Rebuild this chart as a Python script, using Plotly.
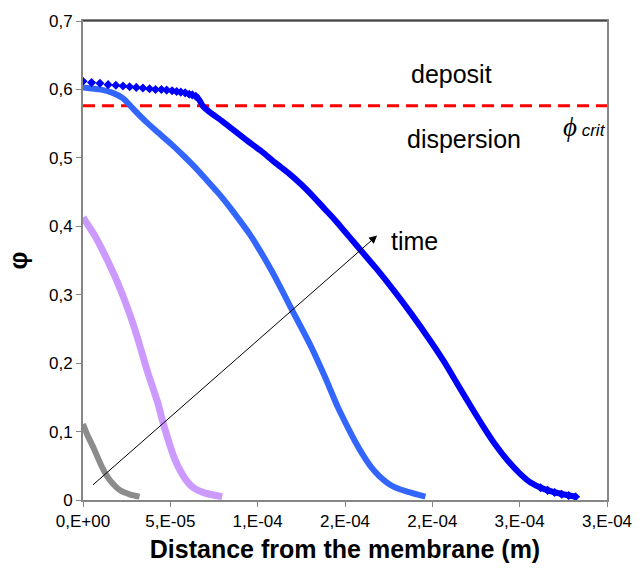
import plotly.graph_objects as go

# ---- data (distance in m, volume fraction phi) ----
gray_x = [0, 2.5e-6, 5.9e-6, 1.0e-5, 1.35e-5, 1.7e-5, 2.1e-5, 2.7e-5, 3.24e-5]
gray_y = [0.111, 0.095, 0.077, 0.053, 0.036, 0.024, 0.0145, 0.008, 0.005]

purple_x = [0, 6.8e-6, 1.44e-5, 2.2e-5, 2.95e-5, 3.7e-5, 4.28e-5, 4.56e-5, 5.0e-5, 5.3e-5, 5.8e-5, 6.27e-5, 7.0e-5, 7.97e-5]
purple_y = [0.413, 0.386, 0.348, 0.304, 0.251, 0.187, 0.142, 0.115, 0.078, 0.057, 0.033, 0.019, 0.010, 0.005]

light_x = [0, 9.7e-6, 1.7e-5, 2.3e-5, 2.86e-5, 3.6e-5, 4.3e-5, 5.1e-5, 5.8e-5, 6.46e-5, 7.1e-5, 7.8e-5, 8.4e-5, 8.9e-5,
           9.5e-5, 1.0e-4, 1.08e-4, 1.14e-4, 1.2e-4, 1.26e-4, 1.31e-4, 1.385e-4, 1.46e-4, 1.51e-4, 1.555e-4,
           1.6e-4, 1.65e-4, 1.7e-4, 1.76e-4, 1.81e-4, 1.86e-4, 1.96e-4]
light_y = [0.603, 0.600, 0.595, 0.587, 0.572, 0.553, 0.537, 0.519, 0.502, 0.485, 0.467, 0.447, 0.428, 0.411,
           0.390, 0.370, 0.335, 0.306, 0.276, 0.247, 0.222, 0.180, 0.135, 0.109, 0.087,
           0.067, 0.048, 0.034, 0.022, 0.016, 0.012, 0.005]

dark_plateau_x = [0, 4.9e-6, 9.7e-6, 1.44e-5, 1.88e-5, 2.29e-5, 2.67e-5, 3.05e-5, 3.43e-5, 3.81e-5,
                  4.15e-5, 4.49e-5, 4.79e-5, 5.1e-5, 5.36e-5, 5.6e-5, 5.85e-5, 6.08e-5, 6.26e-5, 6.46e-5]
dark_plateau_y = [0.612, 0.610, 0.609, 0.607, 0.606, 0.605, 0.604, 0.603, 0.602, 0.601,
                  0.600, 0.600, 0.599, 0.598, 0.597, 0.596, 0.595, 0.593, 0.592, 0.590]

dark_x = [6.46e-5, 6.65e-5, 6.85e-5, 7.2e-5, 8.0e-5, 9.3e-5, 1.02e-4, 1.1e-4, 1.18e-4, 1.25e-4, 1.32e-4, 1.385e-4,
          1.45e-4, 1.5e-4, 1.55e-4, 1.59e-4, 1.68e-4, 1.78e-4, 1.88e-4, 1.99e-4, 2.07e-4, 2.14e-4, 2.22e-4,
          2.29e-4, 2.36e-4, 2.43e-4, 2.5e-4, 2.56e-4, 2.63e-4, 2.71e-4, 2.82e-4]
dark_y = [0.590, 0.585, 0.576, 0.568, 0.553, 0.527, 0.510, 0.493, 0.477, 0.461, 0.443, 0.425,
          0.407, 0.392, 0.377, 0.365, 0.338, 0.306, 0.272, 0.232, 0.201, 0.171, 0.137,
          0.108, 0.081, 0.058, 0.039, 0.026, 0.017, 0.0106, 0.0048]

dark_tail_x = [2.62e-4, 2.66e-4, 2.7e-4, 2.74e-4, 2.78e-4, 2.82e-4]
dark_tail_y = [0.018, 0.014, 0.011, 0.0085, 0.0065, 0.0048]

phi_crit = 0.576

x_tickvals = [0, 5e-5, 1e-4, 1.5e-4, 2e-4, 2.5e-4, 3e-4]
x_ticktext = ["0,E+00", "5,E-05", "1,E-04", "2,E-04", "2,E-04", "3,E-04", "3,E-04"]
y_tickvals = [0, 0.1, 0.2, 0.3, 0.4, 0.5, 0.6, 0.7]

arrow_start = (4.9e-6, 0.0203)
arrow_end = (1.684e-4, 0.3865)

fig = go.Figure()

fig.add_trace(go.Scatter(x=[0, 3e-4], y=[phi_crit, phi_crit], mode="lines",
                         line=dict(color="#FF0000", width=3, dash="12px,7px"), showlegend=False))

sp = dict(shape="spline", smoothing=0.6)
fig.add_trace(go.Scatter(x=gray_x, y=gray_y, mode="lines",
                         line=dict(color="#8C8C8C", width=6, **sp), showlegend=False))
fig.add_trace(go.Scatter(x=purple_x, y=purple_y, mode="lines",
                         line=dict(color="#CC99FF", width=7, **sp), showlegend=False))
fig.add_trace(go.Scatter(x=light_x, y=light_y, mode="lines",
                         line=dict(color="#3366FF", width=6, **sp), showlegend=False))
fig.add_trace(go.Scatter(x=dark_x, y=dark_y, mode="lines",
                         line=dict(color="#0000FF", width=6, **sp), showlegend=False))
fig.add_trace(go.Scatter(x=dark_plateau_x, y=dark_plateau_y, mode="markers",
                         marker=dict(symbol="diamond", size=7, color="#0000FF"), showlegend=False))
fig.add_trace(go.Scatter(x=dark_tail_x, y=dark_tail_y, mode="markers",
                         marker=dict(symbol="diamond", size=7, color="#0000FF"), showlegend=False))

fig.add_annotation(x=arrow_end[0], y=arrow_end[1], ax=arrow_start[0], ay=arrow_start[1],
                   xref="x", yref="y", axref="x", ayref="y", text="", showarrow=True,
                   arrowhead=2, arrowsize=1.6, arrowwidth=1, arrowcolor="#000000")

font_txt = dict(family="Liberation Sans, Arial, sans-serif", size=25, color="#000000")
fig.add_annotation(x=2.11e-4, y=0.622, xref="x", yref="y", text="deposit", showarrow=False, font=font_txt)
fig.add_annotation(x=2.18e-4, y=0.528, xref="x", yref="y", text="dispersion", showarrow=False, font=font_txt)
fig.add_annotation(x=1.9e-4, y=0.378, xref="x", yref="y", text="time", showarrow=False, font=font_txt)
fig.add_annotation(x=2.87e-4, y=0.545, xref="x", yref="y",
                   text='<i>ϕ</i><span style="font-size:17px;font-family:Liberation Sans"><i> crit</i></span>',
                   showarrow=False, font=dict(family="Liberation Serif, Times New Roman, serif", size=27, color="#000000"))

# top border
fig.add_shape(type="line", xref="paper", yref="paper", x0=0, x1=1, y0=1, y1=1,
              line=dict(color="#000000", width=1))

fig.update_layout(
    width=644, height=578,
    margin=dict(l=83, r=33, t=17, b=78),
    paper_bgcolor="white", plot_bgcolor="white",
    separators=", ",
    font=dict(family="Liberation Sans, Arial, sans-serif", size=17, color="#000000"),
    xaxis=dict(range=[0, 3e-4], tickvals=x_tickvals, ticktext=x_ticktext,
               showgrid=False, zeroline=False, showline=True, linecolor="#868686", linewidth=2,
               mirror=True, ticks="outside", ticklen=5, tickcolor="#868686",
               title=dict(text="<b>Distance from the membrane (m)</b>", font=dict(size=25), standoff=10)),
    yaxis=dict(range=[0, 0.7], tickvals=y_tickvals, tickformat=".1~f",
               showgrid=False, zeroline=False, showline=True, linecolor="#868686", linewidth=2,
               mirror=True, ticks="outside", ticklen=5, tickcolor="#868686",
               title=dict(text="<b>φ</b>", font=dict(size=25), standoff=14)),
)

fig.write_html("out.html", config={"displayModeBar": False},
               post_script="document.body.style.margin='0';")
